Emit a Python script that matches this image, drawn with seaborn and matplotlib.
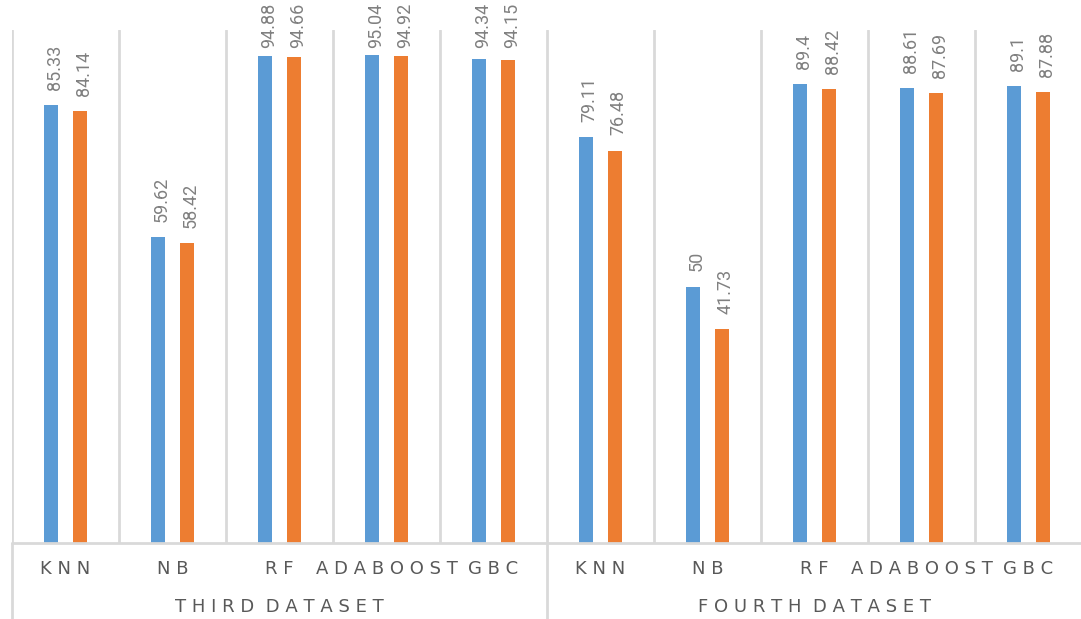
import numpy as np
import pandas as pd
import seaborn as sns
import matplotlib
matplotlib.use("Agg")
import matplotlib.pyplot as plt
from matplotlib.lines import Line2D

# Data
datasets = ["THIRD DATASET", "FOURTH DATASET"]
models = ["KNN", "NB", "RF", "ADABOOST", "GBC"]
series_names = ["Series A", "Series B"]
third_a = [85.33, 59.62, 94.88, 95.04, 94.34]
third_b = [84.14, 58.42, 94.66, 94.92, 94.15]
fourth_a = [79.11, 50, 89.4, 88.61, 89.1]
fourth_b = [76.48, 41.73, 88.42, 87.69, 87.88]
value_text = {
    ("THIRD DATASET", "Series A"): ["85.33", "59.62", "94.88", "95.04", "94.34"],
    ("THIRD DATASET", "Series B"): ["84.14", "58.42", "94.66", "94.92", "94.15"],
    ("FOURTH DATASET", "Series A"): ["79.11", "50", "89.4", "88.61", "89.1"],
    ("FOURTH DATASET", "Series B"): ["76.48", "41.73", "88.42", "87.69", "87.88"],
}

rows = []
for ds, a_vals, b_vals in [(datasets[0], third_a, third_b), (datasets[1], fourth_a, fourth_b)]:
    for i, m in enumerate(models):
        key = f"{ds}|{m}"
        rows.append(dict(key=key, series=series_names[0], value=a_vals[i],
                         label=value_text[(ds, series_names[0])][i]))
        rows.append(dict(key=key, series=series_names[1], value=b_vals[i],
                         label=value_text[(ds, series_names[1])][i]))
df = pd.DataFrame(rows)
order = [f"{ds}|{m}" for ds in datasets for m in models]

sns.set_style("white")
plt.rcParams["font.family"] = ["DejaVu Sans"]

DPI = 100
fig = plt.figure(figsize=(10.81, 6.19), dpi=DPI)
ax = fig.add_axes([12 / 1081, 76 / 619, 1070 / 1081, 513 / 619])

palette = {series_names[0]: "#5b9bd5", series_names[1]: "#ed7d31"}
sns.barplot(data=df, x="key", y="value", hue="series", order=order,
            hue_order=series_names, palette=palette, width=0.54,
            saturation=1, legend=False, ax=ax, errorbar=None)

# Narrow each bar around its own centre
bar_w = 0.13
for p in ax.patches:
    cx = p.get_x() + p.get_width() / 2
    p.set_width(bar_w)
    p.set_x(cx - bar_w / 2)
    p.set_linewidth(0)

# Value labels above bars
labels = []
for container, s in zip(ax.containers, series_names):
    sub = df[df.series == s].set_index("key").loc[order]
    for bar, txt in zip(container, sub["label"]):
        a = ax.annotate(txt, (bar.get_x() + bar.get_width() / 2 + 0.035, bar.get_height()),
                        xytext=(0, 11), textcoords="offset points", rotation=90,
                        ha="center", va="bottom", fontsize=13, color="#808080",
                        family="Roboto", annotation_clip=False)
        labels.append(a)

ax.set_xlim(-0.5, 9.5)
ax.set_ylim(0, 100)
ax.set_yticks([])
ax.set_xlabel("")
ax.set_ylabel("")
for sp in ax.spines.values():
    sp.set_visible(False)

grid_c = "#d9d9d9"
# Category boundary lines
for b in np.arange(-0.5, 10, 1.0):
    ax.axvline(b, color=grid_c, lw=2, zorder=0)
ax.axhline(0, color=grid_c, lw=2, zorder=3, clip_on=False)

# Group separators run down through the label area
for b in [-0.5, 4.5, 9.5]:
    ax.add_line(Line2D([b, b], [0, -0.16], transform=ax.get_xaxis_transform(),
                       color=grid_c, lw=2, clip_on=False))

def spaced(s):
    return " ".join(s).replace("   ", "  ")

ax.set_xticks(range(len(order)))
ax.set_xticklabels([spaced(k.split("|")[1]) for k in order], fontsize=13,
                   color="#595959")
ax.tick_params(axis="x", length=0, pad=12)

for gi, ds in enumerate(datasets):
    ax.text(2 + gi * 5, -0.124, spaced(ds),
            transform=ax.get_xaxis_transform(), ha="center", va="center",
            fontsize=13, color="#595959")

# Keep labels of the tallest bars inside the figure
fig.canvas.draw()
renderer = fig.canvas.get_renderer()
top_px = fig.bbox.height - 3
for a in labels:
    bb = a.get_window_extent(renderer)
    if bb.y1 > top_px:
        dy = (bb.y1 - top_px) * 72 / DPI
        ox, oy = a.xyann
        a.xyann = (ox, oy - dy)

fig.savefig("out.png", dpi=DPI, facecolor="white")
